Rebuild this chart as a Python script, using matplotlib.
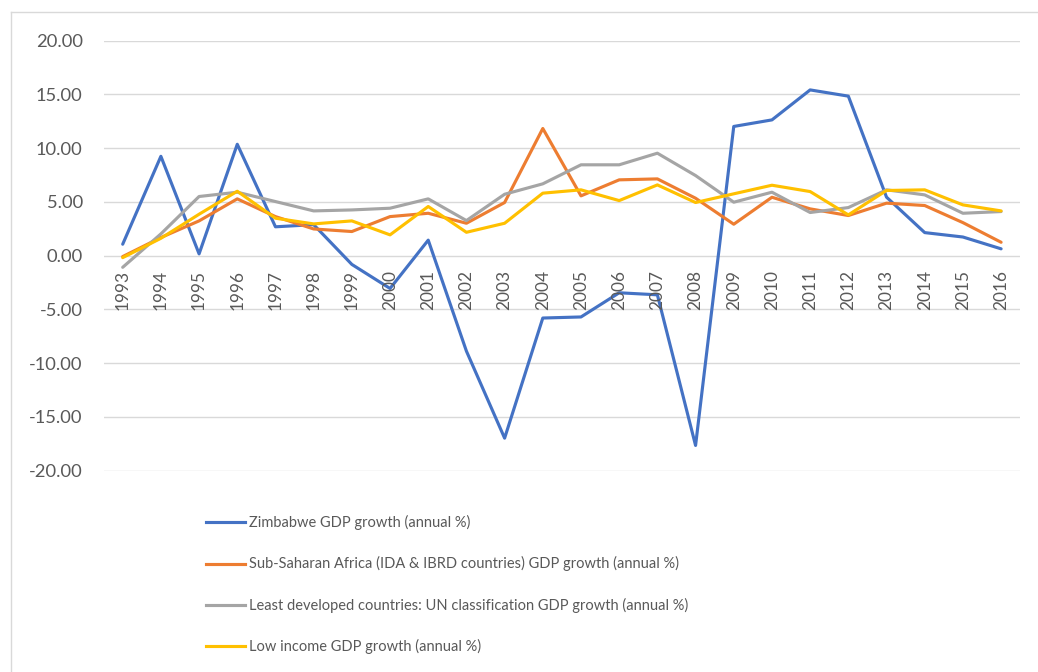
import matplotlib
matplotlib.use("Agg")
import matplotlib.pyplot as plt
from matplotlib.lines import Line2D
from matplotlib import transforms

years = [str(y) for y in range(1993, 2017)]
zimbabwe = [1.06, 9.24, 0.16, 10.36, 2.68, 2.88, -0.82, -3.06, 1.44, -8.89, -16.99, -5.81,
            -5.71, -3.46, -3.65, -17.67, 12.02, 12.63, 15.42, 14.84, 5.44, 2.14, 1.73, 0.63]
ssa = [-0.09, 1.68, 3.23, 5.28, 3.63, 2.48, 2.24, 3.63, 3.94, 3.01, 4.94, 11.83,
       5.56, 7.05, 7.14, 5.34, 2.92, 5.43, 4.35, 3.73, 4.88, 4.66, 3.07, 1.24]
ldc = [-1.09, 2.02, 5.50, 5.90, 5.03, 4.16, 4.25, 4.41, 5.28, 3.26, 5.71, 6.68,
       8.45, 8.45, 9.53, 7.45, 4.97, 5.90, 4.01, 4.47, 6.12, 5.65, 3.94, 4.10]
low_income = [-0.19, 1.61, 3.85, 5.99, 3.48, 2.95, 3.23, 1.93, 4.57, 2.17, 3.01, 5.81,
              6.12, 5.12, 6.58, 4.94, 5.75, 6.55, 5.96, 3.79, 6.06, 6.12, 4.72, 4.16]
yticks = [20, 15, 10, 5, 0, -5, -10, -15, -20]

series = [
    ("Zimbabwe GDP growth (annual %)", zimbabwe, "#4472C4"),
    ("Sub-Saharan Africa (IDA & IBRD countries) GDP growth (annual %)", ssa, "#ED7D31"),
    ("Least developed countries: UN classification GDP growth (annual %)", ldc, "#A5A5A5"),
    ("Low income GDP growth (annual %)", low_income, "#FFC000"),
]

plt.rcParams['font.family'] = ['Lato', 'DejaVu Sans']
TXT = "#595959"
GRID = "#D9D9D9"

W, H = 1038, 672
fig = plt.figure(figsize=(W / 100, H / 100), dpi=100)
fig.patch.set_facecolor("white")

ax = fig.add_axes([103.6 / W, 1 - 470.5 / H, (1020.2 - 103.6) / W, (470.5 - 40.7) / H])
x = list(range(len(years)))
for label, vals, col in series:
    ax.plot(x, vals, color=col, lw=2.25, solid_joinstyle="round", solid_capstyle="round", zorder=3)

ax.set_xlim(-0.5, len(years) - 0.5)
ax.set_ylim(-20, 20)
ax.set_yticks(yticks)
ax.set_yticklabels([f"{v:.2f}" for v in yticks], color=TXT, fontsize=13.2)
ax.tick_params(axis="y", length=0, pad=15)
ax.set_xticks([])
ax.grid(axis="y", color=GRID, lw=1.0, zorder=0)
for s in ax.spines.values():
    s.set_visible(False)

trans = transforms.offset_copy(ax.transData, fig=fig, x=0, y=-10.5, units="points")
for i, yr in enumerate(years):
    ax.text(i, 0, yr, rotation=90, ha="center", va="top", color=TXT, fontsize=12.4,
            transform=trans, zorder=4)

# legend
rows_y = [522, 563.5, 605, 646]
for (label, vals, col), yy in zip(series, rows_y):
    fy = 1 - yy / H
    fig.add_artist(Line2D([206 / W, 245 / W], [fy, fy], color=col, lw=2.25,
                          transform=fig.transFigure))
    fig.text(249 / W, fy, label, color=TXT, fontsize=10.5, va="center", ha="left")

# chart border
fig.add_artist(Line2D([11 / W, 11 / W], [0, 1 - 12 / H], color=GRID, lw=1.0, transform=fig.transFigure))
fig.add_artist(Line2D([11 / W, 1], [1 - 12 / H, 1 - 12 / H], color=GRID, lw=1.0, transform=fig.transFigure))

fig.savefig("out.png", dpi=100)
